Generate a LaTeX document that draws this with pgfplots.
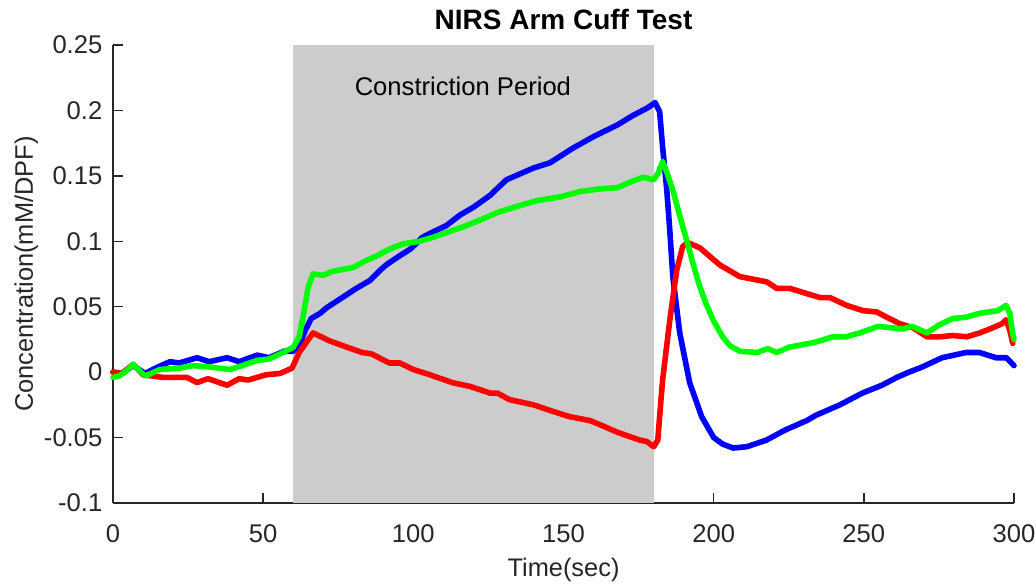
\documentclass[border=0pt]{standalone}
\usepackage{pgfplots}
\pgfplotsset{compat=1.18}
\usepackage{fontspec}
\setmainfont{Liberation Sans}
\definecolor{axgray}{HTML}{262626}
\definecolor{shade}{HTML}{CCCCCC}
\begin{document}
\begin{tikzpicture}
\path[use as bounding box] (-56.5pt,-40pt) rectangle (461.5pt,251.5pt);
\begin{axis}[
  at={(0,0)}, anchor=south west,
  scale only axis, width=450.5pt, height=229pt,
  xmin=0, xmax=300, ymin=-0.1, ymax=0.25,
  axis x line*=bottom, axis y line*=left,
  axis line style={color=axgray, line width=0.75pt},
  tick style={color=axgray, line width=0.75pt},
  tick align=inside, major tick length=5pt,
  xtick={0,50,100,150,200,250,300},
  ytick={-0.1,-0.05,0,0.05,0.1,0.15,0.2,0.25},
  yticklabels={-0.1,-0.05,0,0.05,0.1,0.15,0.2,0.25},
  /pgf/number format/assume math mode=true,
  ticklabel style={font=\fontsize{12.8}{15}\selectfont, text=axgray},
  xticklabel style={anchor=base, yshift=-19.5pt},
  yticklabel style={anchor=east, xshift=-1.8pt},
  every axis title shift=0pt,
  title={NIRS Arm Cuff Test},
  title style={at={(axis description cs:0.5,1)}, anchor=base, yshift=7.5pt, font=\bfseries\fontsize{14}{16}\selectfont},
  xlabel={Time(sec)},
  xlabel style={at={(axis description cs:0.5,0)}, anchor=base, yshift=-36.5pt, font=\fontsize{12.7}{15}\selectfont, text=axgray},
  ylabel={Concentration(mM/DPF)},
  ylabel style={at={(axis description cs:-0.0888,0.5)}, anchor=base, font=\fontsize{12.7}{15}\selectfont, text=axgray},
  clip=false,
]
\addplot[fill=shade, draw=none] coordinates {(60,-0.1) (180,-0.1) (180,0.25) (60,0.25)} -- cycle;
\node[font=\fontsize{12.8}{15}\selectfont, text=black] at (axis cs:116.5,0.2186) {Constriction Period};
% blue
\addplot[color=blue, line width=2.8pt, line join=round, line cap=round] coordinates {
(0,0.000) (3,-0.001) (6.7,0.005) (10.7,-0.001) (15,0.004) (19,0.008) (22,0.007) (28,0.011) (32,0.008) (38,0.011) (42,0.008) (48,0.013) (52,0.011) (57,0.016) (60,0.016) (62,0.020) (64,0.032) (66,0.041) (69,0.045) (71,0.049) (75,0.055) (79,0.061) (81,0.064) (85.5,0.070) (89,0.078) (91,0.082) (95.5,0.089) (99,0.094) (103,0.103) (105.5,0.106) (111,0.112) (115.5,0.120) (120,0.126) (125.5,0.135) (131,0.147) (135,0.151) (140,0.156) (145.5,0.160) (153,0.171) (160,0.180) (168,0.189) (173,0.196) (178,0.202) (180.5,0.206) (182,0.199) (183,0.172) (184.4,0.139) (185.4,0.108) (186.4,0.073) (188.7,0.030) (192,-0.008) (196,-0.034) (200,-0.050) (203,-0.055) (206.5,-0.058) (211,-0.057) (217.5,-0.052) (224,-0.044) (231,-0.037) (234,-0.033) (242,-0.025) (249.5,-0.016) (256,-0.010) (261,-0.004) (265,0.000) (269.5,0.004) (276,0.011) (284,0.015) (288.5,0.015) (294,0.011) (297.5,0.011) (300,0.005)
};
% red
\addplot[color=red, line width=2.8pt, line join=round, line cap=round] coordinates {
(0,0.000) (3,-0.001) (6.7,0.006) (10,-0.002) (16.6,-0.004) (24.6,-0.004) (28,-0.008) (31.6,-0.005) (38,-0.010) (42,-0.005) (45,-0.006) (51,-0.002) (55.6,-0.001) (59.6,0.003) (62,0.015) (66.6,0.030) (72,0.024) (78,0.019) (83,0.015) (86,0.014) (92,0.007) (95.5,0.007) (100,0.002) (105.5,-0.002) (113,-0.008) (119,-0.011) (125.5,-0.016) (128,-0.016) (132,-0.021) (140,-0.025) (146.5,-0.030) (152,-0.034) (158.8,-0.037) (162,-0.040) (168,-0.046) (175.5,-0.052) (177.7,-0.053) (180,-0.057) (181.4,-0.052) (182,-0.034) (183,-0.006) (185.4,0.040) (187.7,0.078) (189.7,0.096) (191.4,0.099) (195.4,0.095) (202,0.082) (208.7,0.073) (217.7,0.069) (221,0.064) (225.4,0.064) (231,0.060) (235.4,0.057) (238.7,0.057) (244.3,0.051) (249.7,0.047) (254.3,0.046) (257.6,0.042) (262,0.037) (266.3,0.034) (271,0.027) (275.3,0.027) (279.6,0.028) (284.3,0.027) (288.6,0.030) (293,0.034) (296,0.037) (297.3,0.040) (298.6,0.032) (299.6,0.022)
};
% green
\addplot[color=green, line width=2.8pt, line join=round, line cap=round] coordinates {
(0,-0.004) (2,-0.003) (4,0.000) (6.7,0.006) (10.7,-0.003) (15.6,0.002) (22,0.003) (26.6,0.005) (32,0.004) (39,0.002) (43,0.005) (48,0.009) (52,0.010) (56.6,0.015) (60,0.019) (62,0.027) (63.5,0.045) (65,0.065) (66.6,0.075) (70,0.074) (73,0.077) (80,0.080) (84,0.085) (88,0.089) (92,0.094) (96.5,0.098) (102,0.100) (106.5,0.103) (109,0.105) (116.5,0.111) (122,0.116) (128,0.122) (135,0.127) (141,0.131) (149,0.134) (155.5,0.138) (162,0.140) (168,0.141) (172,0.145) (176.5,0.149) (180,0.147) (181.5,0.152) (183,0.161) (184.5,0.152) (186.4,0.139) (189,0.117) (191,0.101) (193,0.084) (195,0.068) (197.5,0.052) (200,0.039) (203,0.027) (205.5,0.020) (208.7,0.016) (214.4,0.015) (218,0.018) (221,0.015) (225,0.019) (234,0.023) (239.7,0.027) (244,0.027) (248.7,0.030) (254.7,0.035) (263,0.033) (266,0.035) (271,0.030) (275,0.036) (279.6,0.041) (284,0.042) (288.6,0.045) (294.6,0.047) (297.3,0.051) (298.6,0.045) (299.5,0.030) (300,0.025)
};
\end{axis}
\end{tikzpicture}
\end{document}
